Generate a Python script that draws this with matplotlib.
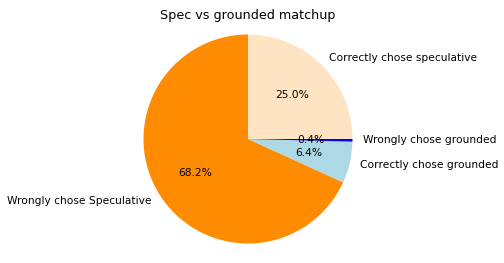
import matplotlib
matplotlib.use("Agg")
import matplotlib.pyplot as plt

labels = ["Wrongly chose Speculative", "Correctly chose grounded",
          "Wrongly chose grounded", "Correctly chose speculative"]
sizes = [68.2, 6.4, 0.4, 25.0]
colors = ["darkorange", "lightblue", "blue", "bisque"]

fig = plt.figure(figsize=(504 / 72, 263 / 72), dpi=72)
W, H = 504, 263
cx, cy, r = 248, 139, 104.5
half = r * 1.1
ax = fig.add_axes([(cx - half) / W, (H - cy - half) / H, 2 * half / W, 2 * half / H])

ax.pie(sizes, labels=labels, colors=colors, autopct="%1.1f%%", startangle=90,
       textprops={"fontsize": 10.6})
ax.set_xlim(-1.1, 1.1)
ax.set_ylim(-1.1, 1.1)
ax.set_aspect("equal")
ax.set_title("Spec vs grounded matchup", fontsize=12.7, pad=5)

fig.savefig("out.png", dpi=72)
